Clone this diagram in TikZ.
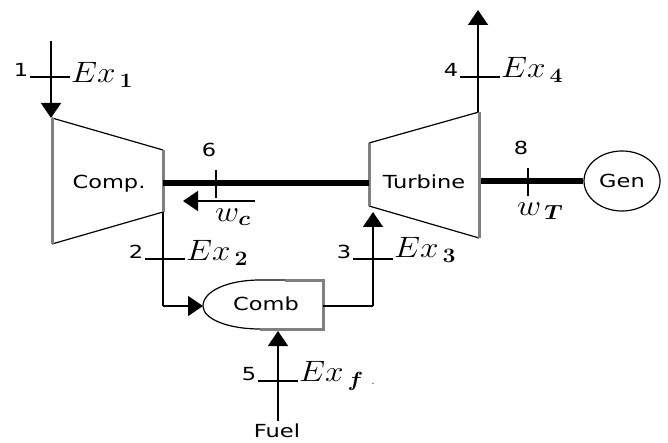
\documentclass[tikz,border=0pt]{standalone}
\usepackage{amsmath}
\usepackage{graphicx}
\usepackage{fontspec}
\setmainfont{DejaVu Sans}
\usepackage{tikz}
\usetikzlibrary{arrows.meta,shapes.geometric}
\newcommand{\widetxt}[1]{\scalebox{1.25}[1]{#1}}
\newcommand{\widemath}[1]{\scalebox{1.6}[1.42]{$#1$}}

\begin{document}
\begin{tikzpicture}[x=1pt,y=-1pt,
  flow/.style={line width=1.5pt,-{Triangle[length=15pt,width=20pt]}},
  pipe/.style={line width=1.5pt},
  shaft/.style={line width=6.5pt},
  tick/.style={line width=1.3pt},
  casing/.style={line width=1.2pt,fill=white},
  wall/.style={line width=3pt,black!50},
  lbl/.style={inner sep=0pt,font=\fontsize{18}{21}\selectfont},
  exlbl/.style={inner sep=0pt,anchor=west,font=\fontsize{20.74}{24}\selectfont},
  gen/.style={ellipse,draw,line width=1.2pt,minimum width=76pt,minimum height=60pt,inner sep=0pt,font=\fontsize{18}{21}\selectfont}]
\useasboundingbox (0,0) rectangle (668,443);

% compressor and turbine
\coordinate (ct) at (52,118);
\coordinate (cr) at (163,150);
\coordinate (crb) at (163,212);
\coordinate (cb) at (52,244);
\coordinate (tl) at (369,143);
\coordinate (tlb) at (369,206);
\coordinate (tt) at (479,112);
\coordinate (tb) at (479,238);
\draw[casing] (ct) -- (cr) (crb) -- (cb);
\draw[casing] (tl) -- (tt) (tlb) -- (tb);
\draw[wall] (ct) -- (cb) (cr) -- (crb);
\draw[wall] (tl) -- (tlb) (tt) -- (tb);
\node[lbl] (comp) at (109,184) {\widetxt{Comp.}};
\node[lbl] (turb) at (424,182) {\widetxt{Turbine}};

% combustor
\coordinate (bl) at (203,306);
\coordinate (bt) at (323,280);
\coordinate (bb) at (323,329);
\coordinate (br) at (323,306);
\draw[line width=1.2pt] (bt) -- (260,280) .. controls (228,280) and (203,291) .. (bl)
   .. controls (203,319) and (228,329) .. (260,329) -- (bb);
\draw[wall] (260,329) -- (bb) -- (bt) -- (285,280);
\node[lbl] (comb) at (266,304) {\widetxt{Comb}};
\node[gen] (gen) at (622,181) {\widetxt{Gen}};
\node[lbl] (fuel) at (277,431) {\widetxt{Fuel}};

% streams
\coordinate (in) at (51,41);
\coordinate (out) at (478,10);
\coordinate (c3) at (373,212);
\coordinate (c2a) at (163,306);
\coordinate (c3a) at (373,306);
\coordinate (fuelend) at (278,421);
\draw[flow] (in) -- (51,118);
\draw[flow] (478,112) -- (out);
\draw[pipe] (crb) -- (c2a);
\draw[flow] (c2a) -- (bl);
\draw[pipe] (br) -- (c3a);
\draw[flow] (c3a) -- (c3);
\draw[flow] (fuelend) -- (278,331);

% work shafts
\coordinate (s1) at (163,183);
\coordinate (s2) at (369,183);
\coordinate (s3) at (481,181);
\draw[shaft] (s1) -- (s2);
\draw[shaft] (s3) -- (gen.west);
\coordinate (w1) at (255,201);
\coordinate (w2) at (183,201);
\draw[flow] (w1) -- (w2);

% station marks
\foreach \n/\x/\y/\e/\ey in %
{1/30/77/1/75,4/460/77/4/70,2/145/259/2/253,3/353/259/3/250,5/258/381/f/376} {
   \node[lbl] (n\n) at (\x-9,\y-7) {\widetxt{\n}};
   \node[exlbl] (e\n) at (\x+41,\ey) {\widemath{Ex_{\,\boldsymbol{\e}}}};
   \draw[tick] (\x,\y) -- (\x+40,\y);
}
\foreach \n/\x/\ya/\yb in %
{6/216/170/198,8/528/168/196} {
   \draw[tick] (\x,\ya) -- (\x,\yb);
   \node[lbl] (n\n) at (\x-7,\ya-20) {\widetxt{\n}};
}
\node[exlbl] (wc) at (215,217) {\widemath{w_{\boldsymbol{c}}}};
\node[exlbl] (wt) at (517,211) {\widemath{w_{\,\boldsymbol{T}}}};
\node[inner sep=0pt,font=\small] (dot) at (373,384) {.};
\end{tikzpicture}
\end{document}
